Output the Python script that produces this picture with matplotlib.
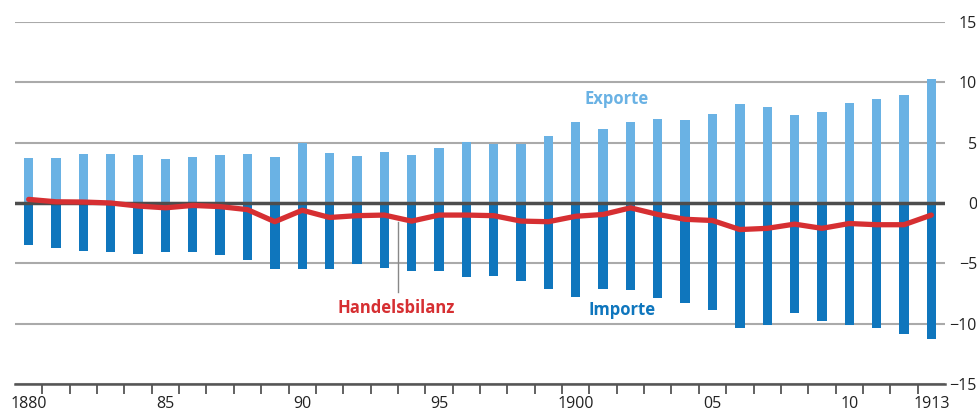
import numpy as np
import matplotlib.pyplot as plt

# Außenhandel 1880-1913
years = list(range(1880, 1914))
exporte = [3.7, 3.7, 4.05, 4.05, 4.0, 3.65, 3.8, 4.0, 4.05, 3.8,
           5.0, 4.15, 3.9, 4.2, 4.0, 4.55, 5.05, 4.9, 4.9, 5.55,
           6.7, 6.15, 6.7, 6.95, 6.9, 7.35, 8.2, 7.95, 7.3, 7.55,
           8.3, 8.6, 8.95, 10.25]
importe = [-3.45, -3.7, -3.95, -4.1, -4.2, -4.05, -4.05, -4.35, -4.7, -5.45,
           -5.5, -5.45, -5.05, -5.35, -5.6, -5.6, -6.1, -6.05, -6.45, -7.1,
           -7.75, -7.1, -7.2, -7.85, -8.25, -8.85, -10.4, -10.1, -9.1, -9.75,
           -10.1, -10.4, -10.85, -11.25]
bilanz = [0.3, 0.1, 0.08, 0.0, -0.25, -0.4, -0.2, -0.3, -0.55, -1.55,
          -0.6, -1.2, -1.05, -1.0, -1.5, -1.0, -1.0, -1.05, -1.5, -1.55,
          -1.1, -0.95, -0.4, -0.95, -1.35, -1.45, -2.2, -2.1, -1.75, -2.1,
          -1.7, -1.8, -1.8, -1.0]
tick_years = [1880, 1885, 1890, 1895, 1900, 1905, 1910, 1913]
tick_labels = ["1880", "85", "90", "95", "1900", "05", "10", "1913"]

plt.rcParams['font.family'] = ['Open Sans', 'DejaVu Sans']

fig = plt.figure(figsize=(9.78, 4.12), dpi=100)
ax = fig.add_axes([15 / 978, 28 / 412, 930 / 978, 362 / 412])

ax.bar(years, exporte, width=0.34, color="#6ab2e4", zorder=2)
ax.bar(years, importe, width=0.34, color="#0f76bd", zorder=2)
ax.axhline(0, color="#4d4d4d", lw=2.5, zorder=3)
ax.plot(years, bilanz, color="#d62f32", lw=3.8, zorder=4, solid_capstyle="round")

ax.set_xlim(1879.5, 1913.5)
ax.set_ylim(-15, 15)
ax.set_yticks([-15, -10, -5, 0, 5, 10, 15])
ax.grid(axis="y", color="#aaaaaa", lw=1.5, zorder=0)
ax.set_axisbelow(True)

ax.yaxis.tick_right()
ax.tick_params(axis="y", length=0, pad=23, labelsize=11.5, labelcolor="#222222")
for lab in ax.get_yticklabels():
    lab.set_horizontalalignment("right")

ax.set_xticks(tick_years)
ax.set_xticklabels(tick_labels)
ax.set_xticks(np.arange(1880.5, 1913, 1), minor=True)
ax.tick_params(axis="x", which="major", length=0, pad=9, labelsize=11.5, labelcolor="#222222")
ax.tick_params(axis="x", which="minor", length=7, width=1.3, color="#555555", direction="out")

for s in ["top", "left", "right"]:
    ax.spines[s].set_visible(False)
ax.spines["bottom"].set_color("#555555")
ax.spines["bottom"].set_linewidth(1.8)

ax.text(1901.5, 8.6, "Exporte", color="#6ab2e4", fontsize=12, fontweight="bold", ha="center", va="center")
ax.text(1901.7, -8.9, "Importe", color="#0f76bd", fontsize=12, fontweight="bold", ha="center", va="center")
ax.text(1893.45, -8.7, "Handelsbilanz", color="#d62f32", fontsize=12, fontweight="bold", ha="center", va="center")
ax.plot([1893.5, 1893.5], [-1.6, -7.4], color="#888888", lw=1, zorder=1)

fig.savefig("out.png", dpi=100)
